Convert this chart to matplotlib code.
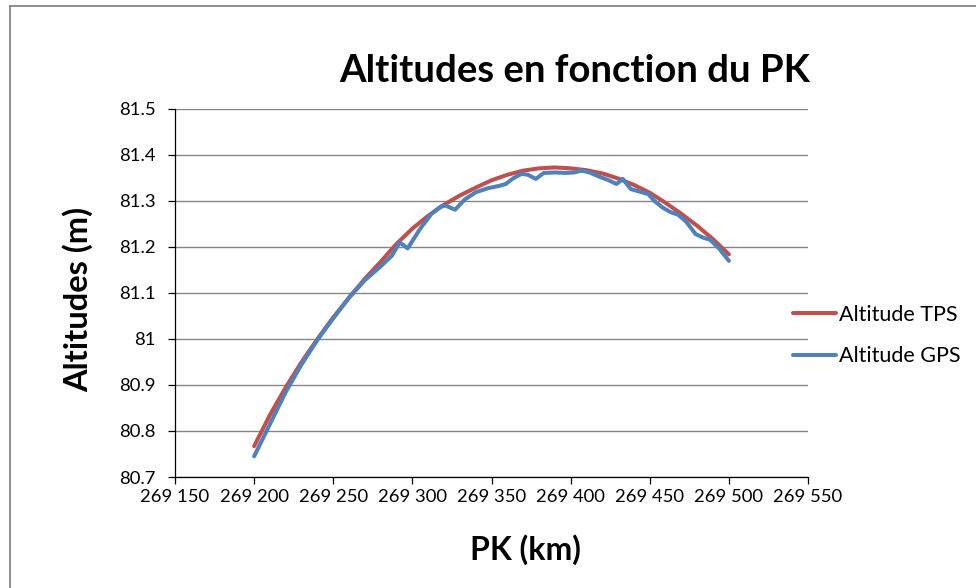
"""
plot.py

Altitudes TPS vs GPS along the PK, redrawn in the Excel look.
Saves out.png (976x588).
"""

import matplotlib
matplotlib.use("Agg")
import matplotlib.pyplot as plt
from matplotlib.lines import Line2D
from matplotlib.ticker import FuncFormatter, MultipleLocator


# ── data ──────────────────────────────────────────────────────────────────────

pk_tps = [269200, 269210, 269220, 269230, 269240, 269250, 269260, 269270,
          269280, 269290, 269300, 269310, 269320, 269330, 269340, 269350,
          269360, 269370, 269380, 269390, 269400, 269410, 269420, 269430,
          269440, 269450, 269460, 269470, 269480, 269490, 269500]
alt_tps = [80.767, 80.835, 80.895, 80.950, 81.000, 81.047, 81.090, 81.131,
           81.168, 81.207, 81.240, 81.268, 81.292, 81.312, 81.329, 81.345,
           81.357, 81.366, 81.371, 81.373, 81.371, 81.367, 81.360, 81.349,
           81.335, 81.318, 81.296, 81.272, 81.246, 81.217, 81.184]

pk_gps = [269200, 269210, 269220, 269230, 269240, 269250, 269260, 269270,
          269280, 269287, 269292, 269297, 269305, 269312, 269318, 269321,
          269327, 269333, 269340, 269348, 269355, 269359, 269364, 269369,
          269373, 269378, 269383, 269390, 269397, 269402, 269407, 269412,
          269418, 269424, 269429, 269433, 269438, 269444, 269449, 269453,
          269458, 269463, 269468, 269473, 269479, 269484, 269488, 269494,
          269500]
alt_gps = [80.745, 80.815, 80.885, 80.945, 80.998, 81.045, 81.090, 81.128,
           81.158, 81.181, 81.210, 81.197, 81.240, 81.272, 81.288, 81.290,
           81.281, 81.303, 81.319, 81.328, 81.333, 81.337, 81.350, 81.359,
           81.357, 81.348, 81.361, 81.362, 81.361, 81.362, 81.366, 81.362,
           81.353, 81.345, 81.337, 81.348, 81.326, 81.320, 81.315, 81.300,
           81.286, 81.276, 81.270, 81.255, 81.228, 81.220, 81.216, 81.196,
           81.170]

series_labels = ["Altitude TPS", "Altitude GPS"]
title = "Altitudes en fonction du PK"
x_label = "PK (km)"
y_label = "Altitudes (m)"


# ── style ─────────────────────────────────────────────────────────────────────

RED = "#C0504D"
BLUE = "#4F81BD"
GRID = "#868686"
plt.rcParams["font.family"] = ["Lato", "DejaVu Sans"]


def pk_fmt(v, _pos):
    s = f"{int(round(v)):d}"
    return s[:-3] + " " + s[-3:]


def yfmt(v, _pos):
    s = f"{v:.1f}"
    return s[:-2] if s.endswith(".0") else s


# ── figure ────────────────────────────────────────────────────────────────────

fig = plt.figure(figsize=(9.76, 5.88), dpi=100)

# chart-area border (only the left and top edges are inside the picture)
fig.lines.append(Line2D([10 / 976, 10 / 976], [0, 1 - 6 / 588], transform=fig.transFigure,
                        color=GRID, linewidth=1.3))
fig.lines.append(Line2D([10 / 976, 1], [1 - 6 / 588, 1 - 6 / 588], transform=fig.transFigure,
                        color=GRID, linewidth=1.3))

ax = fig.add_axes([175 / 976, 1 - 477 / 588, 633 / 976, 368 / 588])

ax.plot(pk_tps, alt_tps, color=RED, linewidth=2.9, label=series_labels[0],
        solid_joinstyle="round", solid_capstyle="round")
ax.plot(pk_gps, alt_gps, color=BLUE, linewidth=2.9, label=series_labels[1],
        solid_joinstyle="round", solid_capstyle="round")

ax.set_xlim(269150, 269550)
ax.set_ylim(80.7, 81.5)
ax.xaxis.set_major_locator(MultipleLocator(50))
ax.yaxis.set_major_locator(MultipleLocator(0.1))
ax.xaxis.set_major_formatter(FuncFormatter(pk_fmt))
ax.yaxis.set_major_formatter(FuncFormatter(yfmt))

ax.grid(axis="y", color=GRID, linewidth=1.0)
ax.set_axisbelow(True)
for side in ("top", "right"):
    ax.spines[side].set_visible(False)
for side in ("left", "bottom"):
    ax.spines[side].set_color("black")
    ax.spines[side].set_linewidth(0.9)
ax.tick_params(axis="both", direction="out", length=5, width=0.9, color="black",
               labelsize=13.3, labelcolor="black")
ax.tick_params(axis="x", pad=4)
ax.tick_params(axis="y", pad=9)

fig.text(0.589, 0.880, title, ha="center", va="center", fontsize=27.5, fontweight="bold")
fig.text(0.080, 0.490, y_label, ha="center", va="center", rotation=90,
         fontsize=23.5, fontweight="bold")
fig.text(0.538, 0.066, x_label, ha="center", va="center", fontsize=23, fontweight="bold")

ax.legend(loc="center left", bbox_to_anchor=(0.977, 0.385), frameon=False,
          fontsize=15.5, handlelength=2.0, handletextpad=0.1, labelspacing=1.0,
          borderpad=0, borderaxespad=0)

fig.savefig("out.png", dpi=100)
plt.close(fig)
